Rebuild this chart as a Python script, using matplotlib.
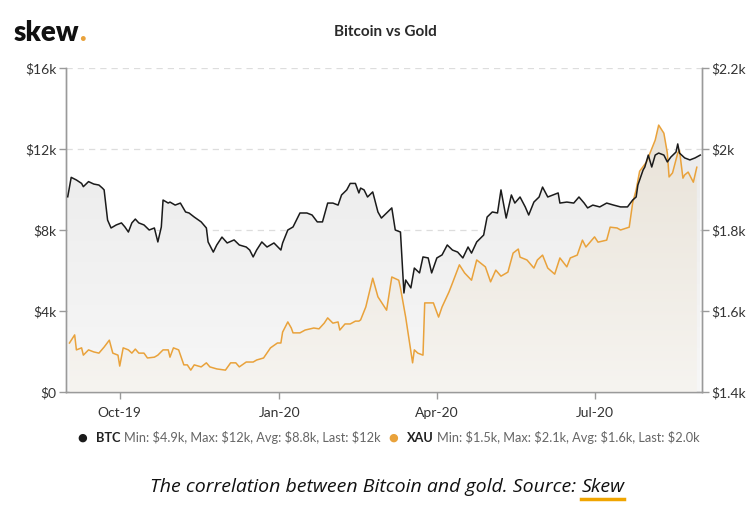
import numpy as np
import pandas as pd
import matplotlib
matplotlib.use("Agg")
import matplotlib.pyplot as plt
import matplotlib.dates as mdates
from matplotlib.colors import LinearSegmentedColormap
from matplotlib.ticker import FixedLocator
from matplotlib.patches import PathPatch

START = pd.Timestamp("2019-09-01")

btc_days = [0, 2, 5, 8, 9, 12, 15, 18, 20, 21, 23, 25, 28, 31, 33, 35, 37, 39, 41, 44,
            47, 50, 52, 54, 55, 58, 59, 62, 65, 68, 70, 73, 77, 80, 81, 84, 86, 89, 92, 96,
            99, 103, 105, 107, 109, 112, 115, 119, 123, 124, 127, 130, 134, 138, 141, 144,
            147, 150, 153, 156, 158, 161, 163, 166, 168, 169, 171, 173, 176, 179, 181, 184,
            187, 189, 192, 194, 195, 198, 200, 203, 205, 208, 210, 213, 216, 219, 222, 225,
            228, 231, 233, 236, 240, 242, 245, 248, 250, 253, 256, 258, 261, 264, 266, 269,
            272, 274, 277, 280, 283, 284, 288, 292, 295, 298, 300, 303, 307, 311, 315, 319,
            323, 326, 328, 329, 332, 333, 335, 337, 339, 341, 344, 346, 348, 351, 352, 353,
            356, 359, 362, 365]
btc_k = [9.64, 10.6, 10.47, 10.3, 10.14, 10.39, 10.27, 10.22, 10.07, 9.98, 8.49, 8.1, 8.25,
         8.35, 8.15, 7.9, 8.35, 8.54, 8.35, 8.25, 8.0, 8.1, 7.41, 8.15, 9.48, 9.33, 9.38,
         9.23, 9.33, 8.89, 8.84, 8.64, 8.40, 8.1, 7.41, 6.91, 7.26, 7.65, 7.36, 7.51, 7.26,
         7.16, 7.01, 6.67, 7.01, 7.41, 7.16, 7.36, 7.01, 7.36, 8.0, 8.15, 8.84, 8.84, 8.74,
         8.40, 8.40, 9.33, 9.33, 9.23, 9.73, 9.98, 10.3, 10.3, 9.83, 10.07, 9.98, 9.63, 9.88,
         8.89, 8.59, 8.84, 9.09, 8.0, 7.9, 4.89, 5.53, 5.14, 6.12, 5.88, 6.67, 6.62, 5.88,
         6.62, 6.77, 7.26, 7.01, 6.91, 6.62, 7.16, 6.86, 7.41, 7.75, 8.64, 8.89, 8.84, 9.98,
         8.59, 9.73, 9.33, 9.63, 9.14, 8.74, 9.38, 9.63, 10.12, 9.63, 9.73, 9.83, 9.33, 9.38,
         9.33, 9.63, 9.33, 9.09, 9.23, 9.14, 9.33, 9.23, 9.14, 9.14, 9.48, 9.63, 10.22,
         10.96, 11.11, 11.7, 11.11, 11.7, 11.8, 11.7, 11.36, 11.6, 11.85, 12.25, 11.8, 11.56,
         11.46, 11.56, 11.7]

xau_days = [1, 4, 5, 8, 9, 12, 15, 18, 21, 24, 26, 29, 30, 32, 35, 37, 39, 41, 44, 46,
            50, 52, 55, 58, 59, 61, 64, 67, 69, 71, 73, 77, 80, 82, 86, 91, 94, 97, 99, 103,
            107, 109, 113, 117, 121, 123, 124, 127, 129, 130, 134, 137, 142, 145, 148, 150,
            153, 156, 157, 160, 163, 166, 168, 169, 172, 176, 179, 184, 187, 191, 192, 195,
            199, 200, 202, 205, 206, 211, 214, 216, 220, 222, 226, 229, 233, 236, 241, 244,
            247, 250, 254, 257, 260, 261, 265, 269, 271, 274, 277, 281, 284, 288, 290, 294,
            297, 299, 304, 306, 311, 313, 317, 319, 324, 326, 328, 330, 334, 336, 339, 341,
            344, 346, 347, 349, 352, 353, 355, 356, 358, 361, 363]
xau = [1521, 1541, 1504, 1509, 1491, 1504, 1499, 1496, 1511, 1528, 1496, 1491, 1464, 1509,
       1504, 1496, 1506, 1496, 1496, 1484, 1486, 1491, 1504, 1504, 1486, 1509, 1504, 1467,
       1467, 1454, 1467, 1462, 1472, 1462, 1457, 1454, 1472, 1472, 1462, 1474, 1474, 1479,
       1484, 1509, 1521, 1521, 1548, 1573, 1558, 1546, 1546, 1553, 1558, 1556, 1570, 1583,
       1570, 1573, 1553, 1568, 1568, 1575, 1575, 1578, 1610, 1681, 1635, 1602, 1684, 1676,
       1657, 1585, 1472, 1504, 1496, 1491, 1620, 1620, 1585, 1610, 1647, 1669, 1714, 1694,
       1676, 1726, 1709, 1672, 1701, 1686, 1696, 1743, 1753, 1733, 1726, 1706, 1726, 1738,
       1706, 1691, 1731, 1709, 1731, 1738, 1775, 1758, 1783, 1770, 1775, 1807, 1805, 1800,
       1807, 1867, 1899, 1945, 1968, 1990, 2022, 2059, 2039, 1990, 1931, 1941, 1990, 1997,
       1928, 1936, 1943, 1918, 1955]

left_ticks = [0, 4000, 8000, 12000, 16000]
left_labels = ["$0", "$4k", "$8k", "$12k", "$16k"]
right_ticks = [1400, 1600, 1800, 2000, 2200]
right_labels = ["$1.4k", "$1.6k", "$1.8k", "$2k", "$2.2k"]
x_ticks = ["2019-10-01", "2020-01-01", "2020-04-01", "2020-07-01"]
x_labels = ["Oct-19", "Jan-20", "Apr-20", "Jul-20"]

btc_legend = ("BTC", "Min: $4.9k, Max: $12k, Avg: $8.8k, Last: $12k")
xau_legend = ("XAU", "Min: $1.5k, Max: $2.1k, Avg: $1.6k, Last: $2.0k")
title = "Bitcoin vs Gold"
caption = "The correlation between Bitcoin and gold. Source: "
caption_link = "Skew"

BTC_COLOR = "#1b1b1b"
GOLD_COLOR = "#e9a23b"
FONT = "Lato"

btc_dates = START + pd.to_timedelta(btc_days, unit="D")
xau_dates = START + pd.to_timedelta(xau_days, unit="D")
btc_vals = np.array(btc_k) * 1000

fig = plt.figure(figsize=(7.5, 5.15), dpi=100)
ax1 = fig.add_axes([66 / 750, 1 - 392 / 515, (702 - 66) / 750, (392 - 68) / 515])
ax2 = ax1.twinx()

xmin = mdates.date2num(pd.Timestamp("2019-08-31"))
xmax = mdates.date2num(pd.Timestamp("2020-09-01"))


def grad_fill(ax, x, y, base, top, c_top, c_bot, z):
    poly = ax.fill_between(x, y, base, facecolor="none", edgecolor="none", zorder=z)
    path = poly.get_paths()[0]
    patch = PathPatch(path, transform=ax.transData, facecolor="none", edgecolor="none")
    ax.add_patch(patch)
    cmap = LinearSegmentedColormap.from_list("g", [c_bot, c_top])
    grad = np.linspace(0, 1, 256).reshape(-1, 1)
    im = ax.imshow(grad, extent=[xmin, xmax, base, top], aspect="auto", origin="lower",
                   cmap=cmap, zorder=z, interpolation="bicubic")
    im.set_clip_path(patch)


grad_fill(ax1, btc_dates, btc_vals, 0, 16000, "#e8e8e8", "#f7f7f7", 1)
ax1.set_ylim(0, 16000)
ax1.set_xlim(xmin, xmax)

grad_fill(ax2, xau_dates, xau, 1400, 2200, "#e6dfd3", "#f6f4f0", 1)
ax2.plot(xau_dates, xau, color=GOLD_COLOR, lw=1.1, zorder=3)
ax2.plot(btc_dates, btc_vals, color=BTC_COLOR, lw=1.1, zorder=4, transform=ax1.transData)
ax2.set_ylim(1400, 2200)
ax2.set_xlim(xmin, xmax)

for t in left_ticks[1:]:
    ax1.axhline(t, color="#dddddd", lw=0.9, ls=(0, (5, 4)), zorder=0.5)

ax1.yaxis.set_major_locator(FixedLocator(left_ticks))
ax1.set_yticklabels(left_labels)
ax2.yaxis.set_major_locator(FixedLocator(right_ticks))
ax2.set_yticklabels(right_labels)
ax1.set_xticks(mdates.date2num(pd.to_datetime(x_ticks)))
ax1.set_xticklabels(x_labels)

for ax in (ax1, ax2):
    ax.spines["top"].set_visible(False)
    for s in ("left", "right", "bottom"):
        ax.spines[s].set_color("#9a9a9a")
        ax.spines[s].set_linewidth(1.0)
    ax.tick_params(axis="both", colors="#9a9a9a", labelcolor="#333333", length=5,
                   width=1.0, labelsize=10)
    for lab in ax.get_xticklabels() + ax.get_yticklabels():
        lab.set_fontfamily(FONT)
ax1.tick_params(axis="y", pad=2)
ax2.tick_params(axis="y", pad=2)
ax1.tick_params(axis="x", pad=6)
ax1.set_facecolor("white")

# header
fig.text(385 / 750, 1 - 32 / 515, title, ha="center", va="center", fontsize=11,
         family=FONT, weight="bold", color="#2a2a2a")
sk = fig.text(14 / 750, 1 - 41 / 515, "skew", ha="left", va="baseline", fontsize=20,
              family=FONT, weight="heavy", color="#111111")
fig.canvas.draw()
r = fig.canvas.get_renderer()
bb = sk.get_window_extent(r)
fig.text(bb.x1 / 750 - 0.001, 1 - 41 / 515, ".", ha="left", va="baseline", fontsize=20,
         family=FONT, weight="heavy", color=GOLD_COLOR)

# legend
ly = 1 - 438 / 515


def legend_item(x0, color, name, rest):
    fig.text(x0 / 750, ly, "\u25CF", ha="center", va="center", fontsize=8, color=color,
             family="DejaVu Sans")
    t1 = fig.text((x0 + 14) / 750, ly, name, ha="left", va="center", fontsize=9.2,
                  family=FONT, weight="bold", color="#222222", parse_math=False)
    fig.canvas.draw()
    b = t1.get_window_extent(fig.canvas.get_renderer())
    fig.text(b.x1 / 750 + 0.004, ly, rest, ha="left", va="center", fontsize=9.2,
             family=FONT, color="#666666", parse_math=False)


legend_item(82, BTC_COLOR, *btc_legend)
legend_item(393, GOLD_COLOR, *xau_legend)

# caption
cy = 1 - 487 / 515
c1 = fig.text(150 / 750, cy, caption, ha="left", va="center", fontsize=14,
              family="Open Sans", style="italic", color="#111111", parse_math=False)
fig.canvas.draw()
b1 = c1.get_window_extent(fig.canvas.get_renderer())
c2 = fig.text(b1.x1 / 750, cy, caption_link, ha="left", va="center", fontsize=14,
              family="Open Sans", style="italic", color="#111111")
fig.canvas.draw()
b2 = c2.get_window_extent(fig.canvas.get_renderer())
fig.add_artist(plt.Line2D([b2.x0 / 750, b2.x1 / 750], [1 - 499 / 515, 1 - 499 / 515],
                          color="#f0a500", lw=2.5, transform=fig.transFigure))

fig.savefig("out.png", dpi=100, facecolor="white")
